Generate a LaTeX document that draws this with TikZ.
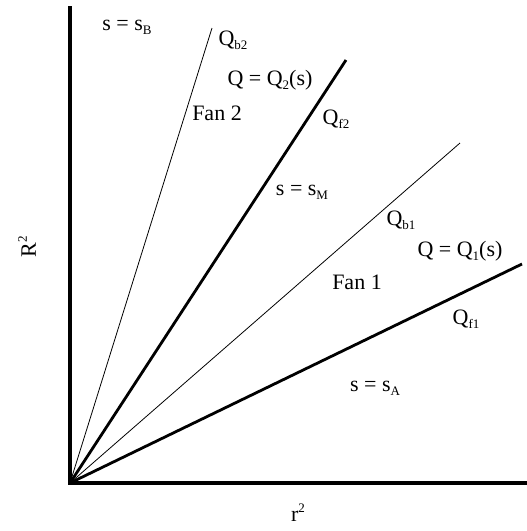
\documentclass[tikz,border=0pt]{standalone}
\usepackage{fontspec}
\setmainfont{Liberation Serif}
\usetikzlibrary{positioning}
\newcommand{\lo}[1]{\raisebox{-4pt}{\fontsize{13}{13}\selectfont #1}}
\newcommand{\hi}[1]{\raisebox{9pt}{\fontsize{13}{13}\selectfont #1}}

\begin{document}
\begin{tikzpicture}[x=1pt,y=-1pt, every node/.style={font=\fontsize{22}{26}\selectfont,inner sep=1pt},
  ax/.style={line width=3.6pt},
  sh/.style={line width=2.8pt},
  fn/.style={line width=0.8pt}]
  \useasboundingbox (0,0) rectangle (527,531);
  % axes and fan lines
  \coordinate (o) at (70,483);
  \coordinate (top) at (70,6);
  \coordinate (right) at (527,483);
  \coordinate (b2) at (212,28);
  \coordinate (f2) at (346,60);
  \coordinate (b1) at (460,143);
  \coordinate (f1) at (522,264);
  \draw[ax] (top) -- (o) -- (right);
  \draw[fn] (o) -- (b2);
  \draw[sh] (o) -- (f2);
  \draw[fn] (o) -- (b1);
  \draw[sh] (o) -- (f1);
  % labels
  \node (sB) at (127,27) {s = s\lo{B}};
  \node (qb2) at (233,40) {Q\lo{b2}};
  \node (q2) at (270,80) {Q = Q\lo{2}(s)};
  \node (fan2) at (217,113) {Fan 2};
  \node (qf2) at (336,119) {Q\lo{f2}};
  \node (sM) at (302,192) {s = s\lo{M}};
  \node (qb1) at (401,220) {Q\lo{b1}};
  \node (q1) at (460,251) {Q = Q\lo{1}(s)};
  \node (fan1) at (357,282) {Fan 1};
  \node (qf1) at (466,319) {Q\lo{f1}};
  \node (sA) at (375,388) {s = s\lo{A}};
  \node[rotate=90] (R) at (27,247) {R\hi{2}};
  \node (r) at (298,513) {r\hi{2}};
\end{tikzpicture}
\end{document}
